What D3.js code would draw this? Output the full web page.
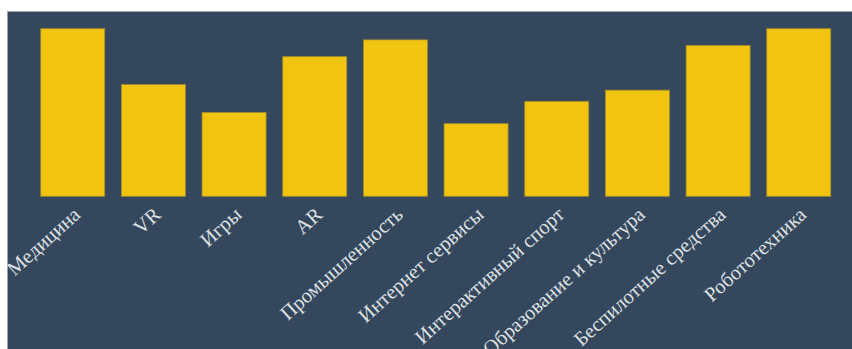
<!doctype html>
<html lang="ru">
	<head>
		<meta charset="utf-8">
		<title>Направления</title>
		<script src="https://cdnjs.cloudflare.com/ajax/libs/d3/7.8.5/d3.min.js"></script>
		<style>
			body { margin: 0; background: #ffffff; }
			svg { display: block; }
			.label { font-family: "Liberation Serif", "DejaVu Serif", serif; font-size: 20.5px; fill: #dfe1e3; }
		</style>
	</head>
	<body>
		<div id="chart"></div>
		<script>

			// categories and values
			var categories = ["Медицина", "VR", "Игры", "AR", "Промышленность", "Интернет сервисы",
				"Интерактивный спорт", "Образование и культура", "Беспилотные средства", "Робототехника"];
			var values = [30, 20, 15, 25, 28, 13, 17, 19, 27, 30];
			var yDomain = [0, 30];

			var width = 852, height = 349;

			var svg = d3.select("#chart")
				.append("svg")
					.attr("width", width)
					.attr("height", height);

			// panel
			svg.append("rect")
				.attr("x", 7.5)
				.attr("y", 11.5)
				.attr("width", width)
				.attr("height", height)
				.attr("fill", "#34475d")
				.attr("stroke", "#9ca5af")
				.attr("stroke-width", 1);

			var x = d3.scaleBand()
				.domain(categories)
				.range([24.6, 846.9])
				.paddingInner(0.2066)
				.paddingOuter(0.2);

			var y = d3.scaleLinear()
				.domain(yDomain)
				.range([196.3, 28.7]);

			svg.selectAll("rect.bar")
				.data(values).enter()
				.append("rect")
					.attr("class", "bar")
					.attr("x", function(d, i) { return x(categories[i]); })
					.attr("y", function(d) { return y(d); })
					.attr("width", x.bandwidth())
					.attr("height", function(d) { return y(0) - y(d); })
					.attr("fill", "#f1c40f")
					.attr("stroke", "#a28b2c")
					.attr("stroke-width", 0.8);

			// rotated category labels
			svg.selectAll("text.label")
				.data(categories).enter()
				.append("text")
					.attr("class", "label")
					.attr("text-anchor", "end")
					.attr("dy", "0.35em")
					.attr("transform", function(d) {
						return "translate(" + (x(d) + x.bandwidth() / 2 + 4) + ",211) rotate(-42)";
					})
					.text(function(d) { return d; });

		</script>
	</body>
</html>
